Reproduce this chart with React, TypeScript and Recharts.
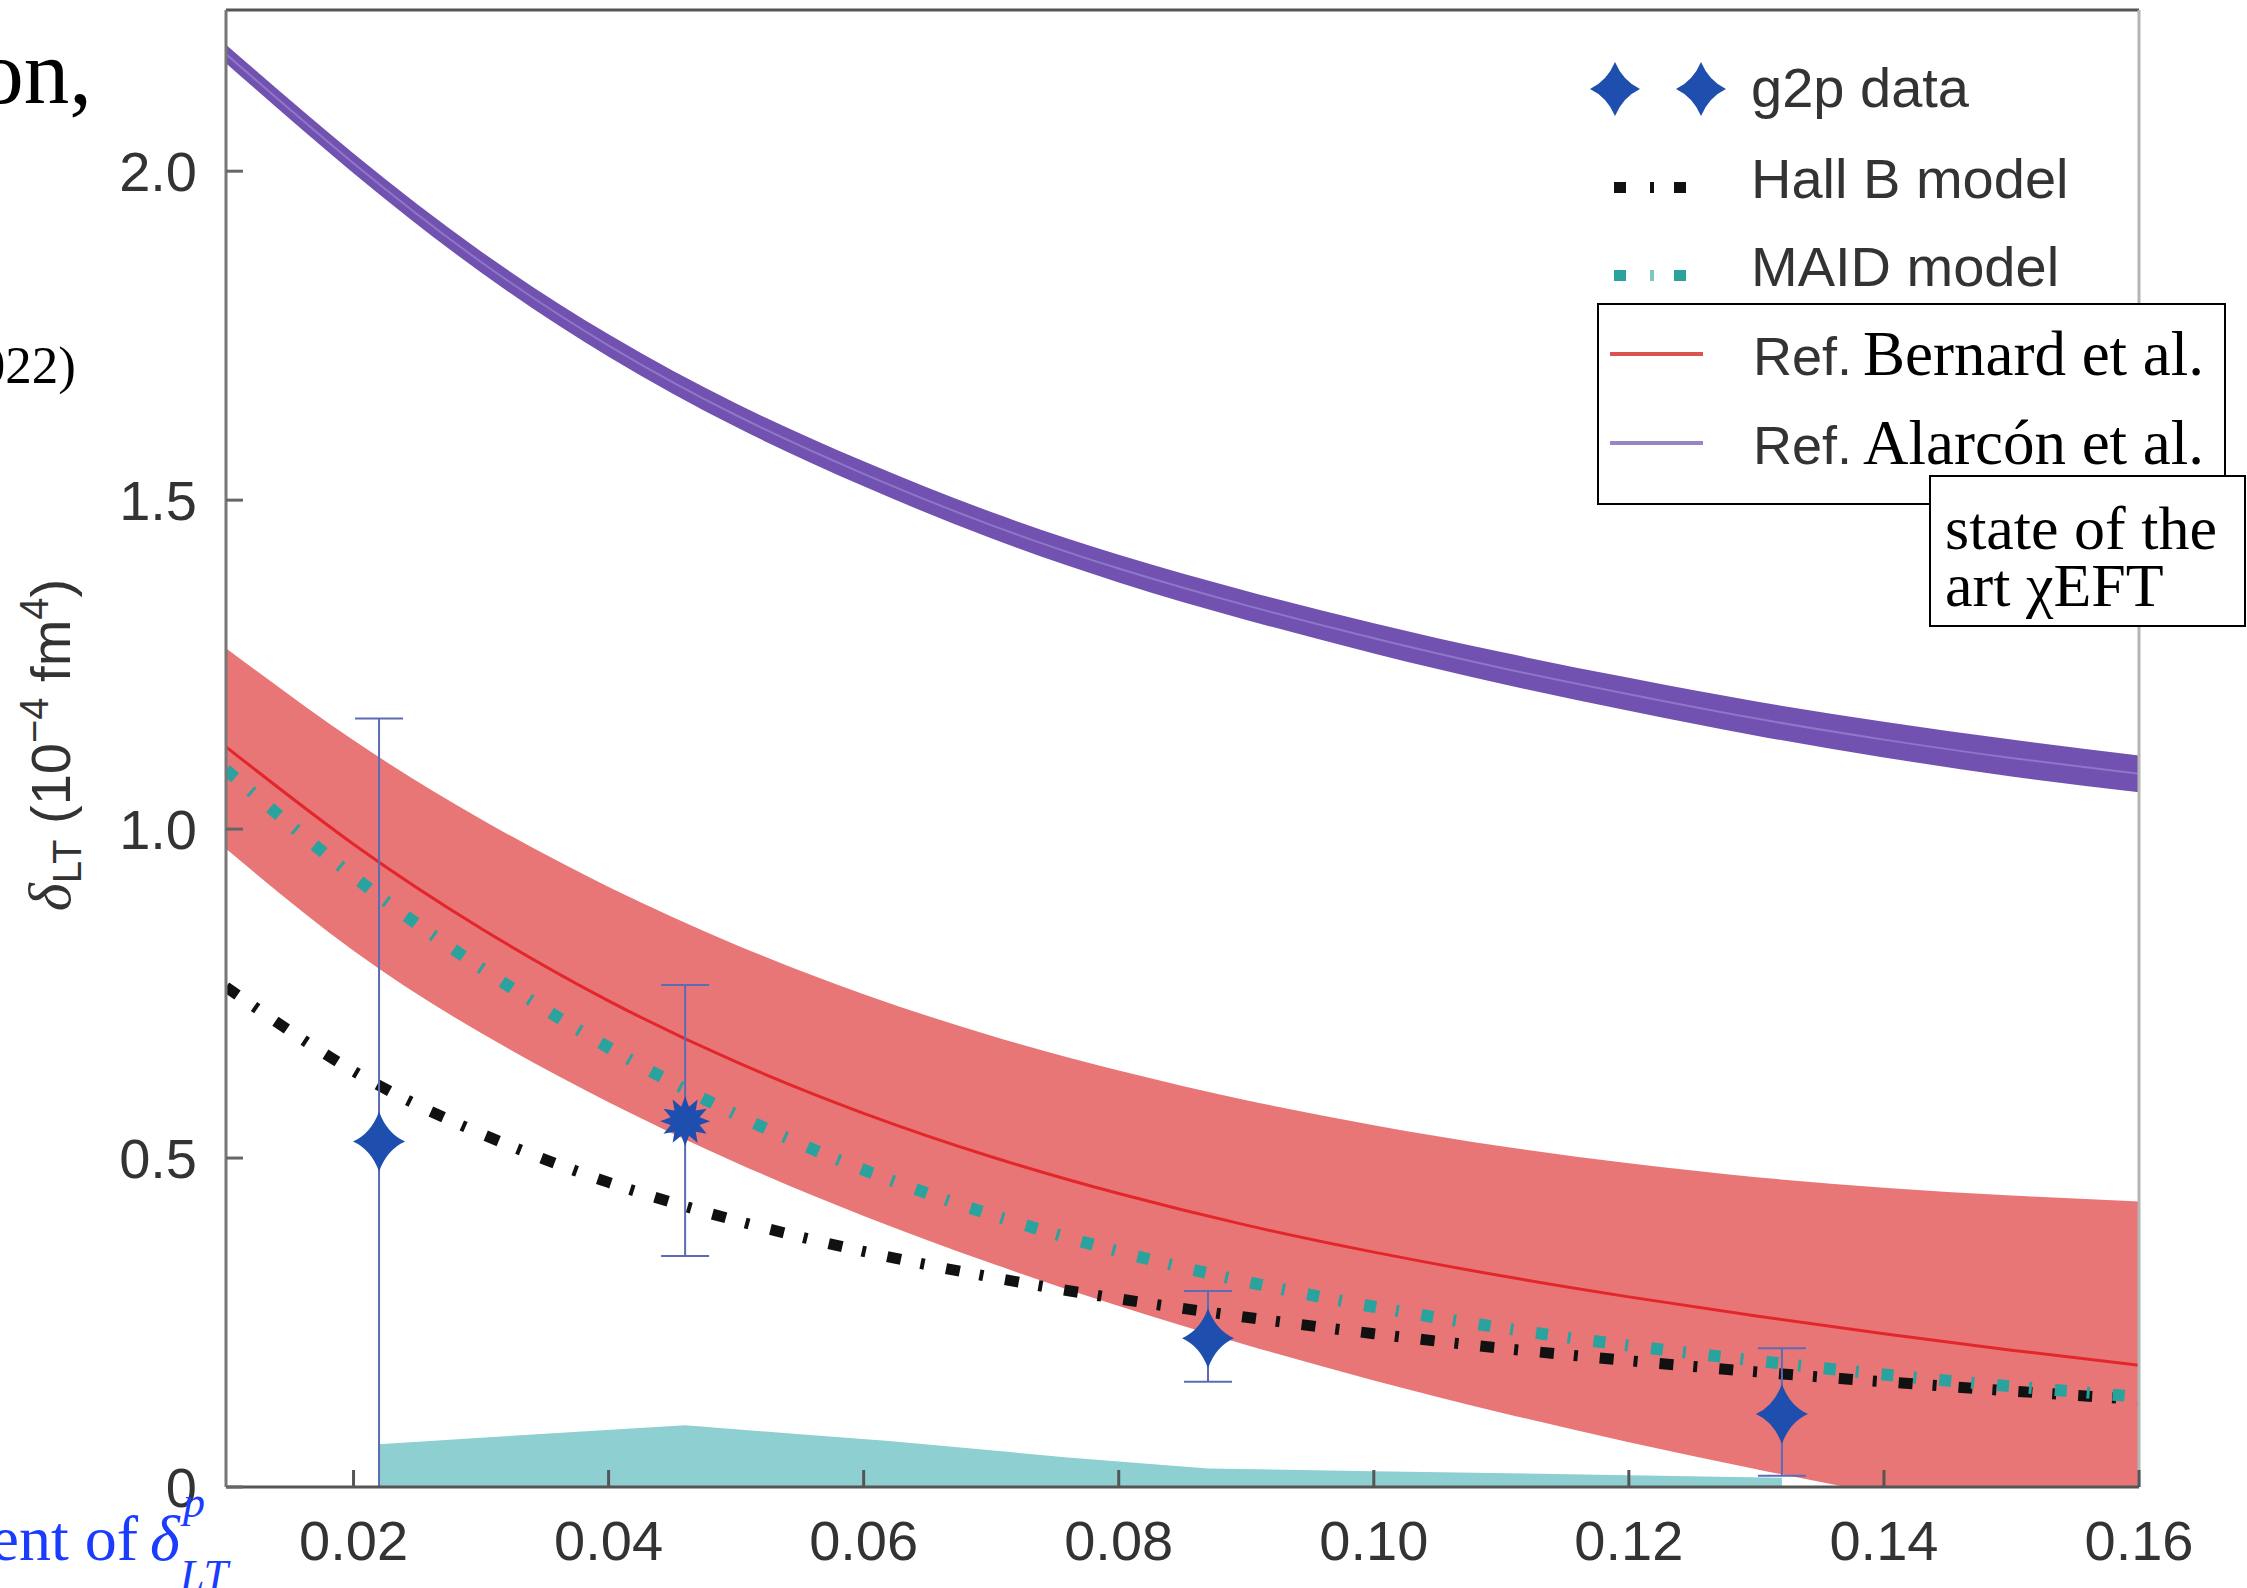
import React from 'react';
import { ComposedChart, Area, Line, Scatter, ErrorBar, XAxis, YAxis, ReferenceLine } from 'recharts';

// ---- data ----
const xs = [0.01, 0.02, 0.03, 0.04, 0.05, 0.06, 0.07, 0.08, 0.09, 0.10, 0.11, 0.12, 0.13, 0.14, 0.15, 0.16];
const alarcon = [2.178, 2.012, 1.862, 1.735, 1.629, 1.54, 1.462, 1.396, 1.34, 1.29, 1.245, 1.205, 1.168, 1.136, 1.108, 1.084];
const alarconLow = [2.164, 1.997, 1.846, 1.718, 1.611, 1.521, 1.442, 1.375, 1.318, 1.267, 1.221, 1.18, 1.142, 1.109, 1.08, 1.056];
const alarconHigh = [2.192, 2.027, 1.878, 1.752, 1.647, 1.559, 1.482, 1.417, 1.362, 1.313, 1.269, 1.23, 1.194, 1.163, 1.136, 1.112];
const bernard = [1.125, 0.977, 0.849, 0.739, 0.646, 0.568, 0.502, 0.446, 0.398, 0.357, 0.321, 0.289, 0.26, 0.233, 0.208, 0.185];
const bernardLow = [0.97, 0.815, 0.69, 0.585, 0.493, 0.412, 0.34, 0.275, 0.216, 0.162, 0.113, 0.068, 0.027, -0.011, -0.046, -0.079];
const bernardHigh = [1.275, 1.135, 1.015, 0.912, 0.824, 0.749, 0.686, 0.633, 0.588, 0.55, 0.518, 0.492, 0.471, 0.455, 0.443, 0.434];
const maid = [1.09, 0.928, 0.789, 0.668, 0.566, 0.482, 0.414, 0.358, 0.312, 0.274, 0.242, 0.215, 0.192, 0.171, 0.153, 0.137];
const hallB = [0.76, 0.632, 0.537, 0.463, 0.405, 0.358, 0.319, 0.286, 0.258, 0.233, 0.211, 0.192, 0.175, 0.16, 0.146, 0.133];

const sysX = [0.022, 0.03, 0.046, 0.055, 0.062, 0.076, 0.087, 0.1, 0.12, 0.132];
const sysY = [0.065, 0.075, 0.094, 0.08, 0.07, 0.045, 0.028, 0.024, 0.018, 0.014];

const g2pX = [0.022, 0.046, 0.087, 0.132];
const g2pY = [0.525, 0.556, 0.226, 0.111];
const g2pErrLow = [0.525, 0.205, 0.066, 0.094];
const g2pErrHigh = [0.643, 0.207, 0.072, 0.1];

const xTicks = [0.02, 0.04, 0.06, 0.08, 0.10, 0.12, 0.14, 0.16];
const yTicks = [0, 0.5, 1.0, 1.5, 2.0];

// tables built from the arrays
const curveData = xs.map((x, i) => ({
  x,
  alarcon: alarcon[i],
  alarconRange: [alarconLow[i], alarconHigh[i]],
  bernard: bernard[i],
  bernardRange: [bernardLow[i], bernardHigh[i]],
  maid: maid[i],
  hallB: hallB[i],
}));
const sysData = sysX.map((x, i) => ({ x, sys: sysY[i] }));
const g2pData = g2pX.map((x, i) => ({ x, y: g2pY[i], err: [g2pErrLow[i], g2pErrHigh[i]] }));

const burstIndex = 1;
const SANS = 'Liberation Sans, Arial, Helvetica, sans-serif';
const SERIF = 'Liberation Serif, Times New Roman, serif';
const STAR = '#1f4fae';

function star4(cx: number, cy: number, rx: number, ry: number) {
  const k = 8;
  return `M${cx},${cy - ry} Q${cx + k},${cy - k} ${cx + rx},${cy} Q${cx + k},${cy + k} ${cx},${cy + ry} Q${cx - k},${cy + k} ${cx - rx},${cy} Q${cx - k},${cy - k} ${cx},${cy - ry} Z`;
}
function burst(cx: number, cy: number, ro: number, ri: number, n: number) {
  let d = '';
  for (let i = 0; i < 2 * n; i++) {
    const r = i % 2 === 0 ? ro : ri;
    const a = (Math.PI * i) / n - Math.PI / 2;
    d += (i === 0 ? 'M' : 'L') + (cx + r * Math.cos(a)).toFixed(2) + ',' + (cy + r * Math.sin(a)).toFixed(2) + ' ';
  }
  return d + 'Z';
}

const StarShape = (props: any) => {
  const { cx, cy, index } = props;
  if (cx == null || cy == null) return null;
  if (index === burstIndex) return <path d={burst(cx, cy, 25, 15, 12)} fill={STAR} />;
  return <path d={star4(cx, cy, 26, 30)} fill={STAR} />;
};

export default function App() {
  return (
    <div style={{ position: 'absolute', left: 0, top: 0, width: 2247, height: 1588, background: '#fff', overflow: 'hidden' }}>
      <ComposedChart width={2247} height={1588} data={curveData} margin={{ top: 10, right: 108, bottom: 0, left: 0 }}>
        <Area data={sysData} dataKey="sys" type="linear" fill="#8ecfd1" fillOpacity={1} stroke="none" isAnimationActive={false} />
        <Area dataKey="bernardRange" type="natural" fill="#e97676" fillOpacity={1} stroke="none" isAnimationActive={false} />
        <Line dataKey="bernard" type="natural" stroke="#e3262b" strokeWidth={3} dot={false} isAnimationActive={false} />
        <Area dataKey="alarconRange" type="natural" fill="#7152b0" fillOpacity={1} stroke="none" isAnimationActive={false} />
        <Line dataKey="alarcon" type="natural" stroke="#8f76c9" strokeWidth={2} dot={false} isAnimationActive={false} />
        <Line dataKey="hallB" type="natural" stroke="#111" strokeWidth={11} strokeDasharray="14 20 4 22" strokeLinecap="butt" dot={false} isAnimationActive={false} />
        <Line dataKey="maid" type="natural" stroke="#2aa39e" strokeWidth={12} strokeDasharray="12 20 3 23" strokeLinecap="butt" dot={false} isAnimationActive={false} />
        <Scatter data={g2pData} dataKey="y" shape={StarShape} isAnimationActive={false}>
          <ErrorBar dataKey="err" direction="y" width={24} stroke="#5c6bb5" strokeWidth={2} isAnimationActive={false} />
        </Scatter>
        <ReferenceLine y={2.245} stroke="#555" strokeWidth={3} />
        <ReferenceLine x={0.16} stroke="#b5b5b5" strokeWidth={3} />
        <XAxis
          type="number"
          dataKey="x"
          domain={[0.01, 0.16]}
          allowDataOverflow
          ticks={xTicks}
          interval={0}
          tickFormatter={(v: number) => v.toFixed(2)}
          height={101}
          tickSize={-17}
          tickMargin={50}
          axisLine={{ stroke: '#555', strokeWidth: 3 }}
          tickLine={{ stroke: '#555', strokeWidth: 3 }}
          tick={{ fill: '#333', fontSize: 56, fontFamily: SANS }}
        />
        <YAxis
          type="number"
          domain={[0, 2.245]}
          allowDataOverflow
          ticks={yTicks}
          interval={0}
          tickFormatter={(v: number) => (v === 0 ? '0' : v.toFixed(1))}
          width={226}
          tickSize={-17}
          tickMargin={46}
          axisLine={{ stroke: '#777', strokeWidth: 3 }}
          tickLine={{ stroke: '#666', strokeWidth: 3 }}
          tick={{ fill: '#333', fontSize: 56, fontFamily: SANS }}
        />
      </ComposedChart>

      <svg width={2247} height={1588} style={{ position: 'absolute', left: 0, top: 0, pointerEvents: 'none' }}>
        {/* y axis label */}
        <text transform="translate(70,745) rotate(-90)" textAnchor="middle" fill="#333" fontFamily={SANS} fontSize={56}>
          <tspan fontFamily={SERIF} fontStyle="italic" fontSize={60}>δ</tspan>
          <tspan fontSize={40} dy={11}>LT</tspan>
          <tspan dy={-11}> (10</tspan>
          <tspan fontSize={40} dy={-22}>−4</tspan>
          <tspan dy={22}> fm</tspan>
          <tspan fontSize={40} dy={-22}>4</tspan>
          <tspan dy={22}>)</tspan>
        </text>

        {/* slide overlay fragments */}
        <text x={92} y={103} textAnchor="end" fontFamily={SERIF} fontSize={91} fill="#000">on,</text>
        <text x={76} y={383} textAnchor="end" fontFamily={SERIF} fontSize={53} fill="#000">(2022)</text>
        <text x={138} y={1560} textAnchor="end" fontFamily={SERIF} fontSize={64} fill="#1a3cff">ent of</text>
        <text x={150} y={1560} fontFamily={SERIF} fontStyle="italic" fontSize={64} fill="#1a3cff">δ</text>
        <text x={183} y={1517} fontFamily={SERIF} fontStyle="italic" fontSize={44} fill="#1a3cff">p</text>
        <text x={180} y={1590} fontFamily={SERIF} fontStyle="italic" fontSize={44} fill="#1a3cff">LT</text>

        {/* legend */}
        <path d={star4(1615, 89, 25, 27)} fill={STAR} />
        <path d={star4(1701, 89, 25, 27)} fill={STAR} />
        <text x={1751} y={107} fontFamily={SANS} fontSize={56} fill="#333">g2p data</text>

        <rect x={1614} y={182} width={12} height={11} fill="#111" />
        <rect x={1650} y={182} width={4} height={11} fill="#111" />
        <rect x={1674} y={182} width={12} height={11} fill="#111" />
        <text x={1751} y={198} fontFamily={SANS} fontSize={56} fill="#333">Hall B model</text>

        <rect x={1614} y={270} width={12} height={11} fill="#2aa39e" />
        <rect x={1650} y={270} width={4} height={11} fill="#7cc7c3" />
        <rect x={1674} y={270} width={12} height={11} fill="#2aa39e" />
        <text x={1751} y={286} fontFamily={SANS} fontSize={56} fill="#333">MAID model</text>

        <rect x={1598} y={304} width={627} height={200} fill="#fff" stroke="#000" strokeWidth={2} />
        <line x1={1610} y1={354} x2={1703} y2={354} stroke="#d9534f" strokeWidth={4} />
        <text x={1753} y={375} fontFamily={SANS} fontSize={54} fill="#333">Ref.</text>
        <text x={1863} y={375} fontFamily={SERIF} fontSize={63} fill="#000">Bernard et al.</text>
        <line x1={1610} y1={443} x2={1703} y2={443} stroke="#9a84c4" strokeWidth={4} />
        <text x={1753} y={464} fontFamily={SANS} fontSize={54} fill="#333">Ref.</text>
        <text x={1863} y={464} fontFamily={SERIF} fontSize={63} fill="#000">Alarcón et al.</text>

        <rect x={1930} y={476} width={315} height={150} fill="#fff" stroke="#000" strokeWidth={2} />
        <text x={1945} y={549} fontFamily={SERIF} fontSize={62} fill="#000">state of the</text>
        <text x={1945} y={606} fontFamily={SERIF} fontSize={62} fill="#000">art χEFT</text>
      </svg>
    </div>
  );
}
